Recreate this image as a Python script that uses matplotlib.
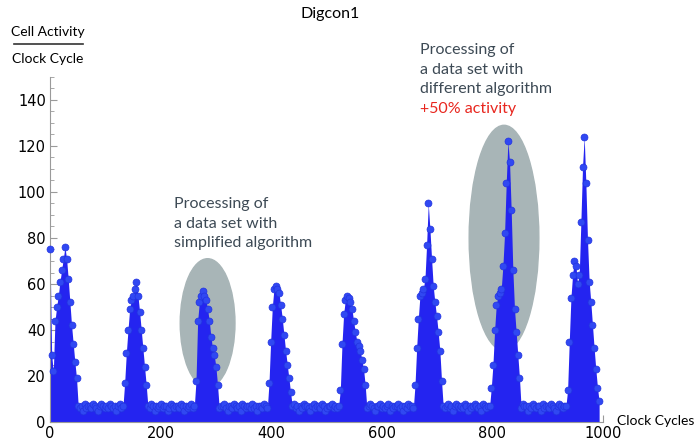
import numpy as np
import matplotlib.pyplot as plt
from matplotlib.patches import Ellipse
from matplotlib.ticker import MultipleLocator

burst_1 = [75, 29, 22, 44, 50, 55, 61, 66, 71, 76, 71, 62, 52, 42, 34, 26, 19]
idle_1 = [7, 6, 7, 5, 8, 6, 7, 7, 6, 8, 7, 6, 5, 7, 8, 7, 6, 7, 6, 8, 7, 6, 7, 5, 7, 8, 6, 7]
burst_2 = [17, 30, 40, 49, 53, 55, 58, 61, 55, 48, 40, 32, 24, 16]
idle_2 = [7, 6, 8, 7, 5, 7, 6, 7, 8, 6, 7, 7, 5, 6, 8, 7, 6, 7, 7, 6, 8, 7, 5, 7, 6, 7, 8, 6, 7]
burst_3 = [18, 44, 52, 55, 57, 55, 53, 49, 44, 37, 32, 29, 24, 16]
idle_3 = [6, 7, 7, 8, 6, 5, 7, 7, 6, 8, 7, 6, 7, 5, 8, 7, 6, 7, 7, 6, 8, 6, 7, 5, 7, 7, 6, 8, 7, 6]
burst_4 = [17, 35, 50, 58, 59, 58, 56, 51, 45, 38, 31, 25, 19, 13]
idle_4 = [7, 8, 6, 7, 5, 7, 6, 8, 7, 7, 6, 5, 7, 8, 6, 7, 7, 6, 8, 7, 5, 6, 7, 7, 8, 6, 7, 6, 7]
burst_5 = [14, 34, 47, 53, 55, 54, 52, 49, 44, 39, 35, 33, 31, 27, 23, 16]
idle_5 = [6, 7, 8, 7, 6, 5, 7, 7, 8, 6, 7, 6, 7, 8, 5, 7, 6, 7, 7, 8, 6, 7, 5, 7, 6, 8, 7, 7, 6]
burst_6 = [16, 32, 45, 55, 56, 58, 62, 77, 95, 84, 71, 59, 52, 46, 39, 31, 18]
idle_6 = [7, 6, 7, 8, 6, 7, 5, 7, 8, 7, 6, 7, 6, 8, 7, 5, 7, 6, 7, 8, 7, 6, 7, 5, 8, 7, 6, 7, 7]
burst_7 = [15, 25, 40, 51, 55, 56, 58, 68, 82, 104, 122, 113, 92, 66, 49, 39, 29, 19]
idle_7 = [6, 8, 7, 7, 5, 7, 6, 8, 7, 6, 7, 7, 5, 8, 6, 7, 7, 6, 8, 7, 6, 5, 7, 8, 7, 6, 7, 7]
burst_8 = [14, 35, 54, 64, 70, 68, 60, 64, 87, 111, 124, 104, 79, 61, 52, 42, 32, 23, 15, 9]

activity = np.array(burst_1 + idle_1 + burst_2 + idle_2 + burst_3 + idle_3 + burst_4 + idle_4
                    + burst_5 + idle_5 + burst_6 + idle_6 + burst_7 + idle_7 + burst_8)
cycles = np.arange(0, 3 * len(activity), 3)

W, H = 698, 442
fig = plt.figure(figsize=(W / 100, H / 100), dpi=100)
ax = fig.add_axes([50 / W, 20 / H, 553 / W, 345 / H])
plt.rcParams['font.family'] = ['Lato', 'DejaVu Sans']

def fx(px):
    return px / W

def fy(py):
    return 1 - py / H

# highlighted regions
ax.add_patch(Ellipse((285, 43), 99, 56, color='#a8b5b7', zorder=1))
ax.add_patch(Ellipse((821, 80), 126, 98, color='#a8b5b7', zorder=1))

ax.fill_between(cycles, 0, activity, color='#2424f0', lw=0, zorder=2)
ax.plot(cycles, activity, 'o', ms=5, color='#3048f2', mec='#2232e0', mew=0.5,
        zorder=3, clip_on=False)

ax.set_xlim(0, 1000)
ax.set_ylim(0, 150)
for s in ['top', 'right']:
    ax.spines[s].set_visible(False)
for s in ['left', 'bottom']:
    ax.spines[s].set_color('#9a9a9a')
    ax.spines[s].set_linewidth(0.8)
ax.xaxis.set_major_locator(MultipleLocator(200))
ax.xaxis.set_minor_locator(MultipleLocator(50))
ax.yaxis.set_major_locator(MultipleLocator(20))
ax.yaxis.set_minor_locator(MultipleLocator(5))
ax.tick_params(which='both', direction='in', color='#9a9a9a', labelsize=10.5, pad=3)
ax.tick_params(which='major', length=5, width=0.8)
ax.tick_params(which='minor', length=3, width=0.6)
ax.set_xticks(range(0, 1001, 200), [str(v) for v in range(0, 1001, 200)])

fig.text(fx(330), fy(14), 'Digcon1', ha='center', va='center', fontsize=11.5)
fig.text(fx(48), fy(32), 'Cell Activity', ha='center', va='center', fontsize=10)
fig.add_artist(plt.Line2D([fx(14), fx(83)], [fy(44), fy(44)], color='#333333', lw=1.2))
fig.text(fx(48), fy(59), 'Clock Cycle', ha='center', va='center', fontsize=10)
fig.text(fx(617), fy(421), 'Clock Cycles', ha='left', va='center', fontsize=10)

txt = '#3d4a55'
for i, line in enumerate(['Processing of', 'a data set with', 'simplified algorithm']):
    fig.text(fx(174), fy(204 + 19.5 * i), line, ha='left', va='center', fontsize=11.5, color=txt)
for i, line in enumerate(['Processing of', 'a data set with', 'different algorithm']):
    fig.text(fx(420), fy(50 + 19.5 * i), line, ha='left', va='center', fontsize=11.5, color=txt)
fig.text(fx(420), fy(108.5), '+50% activity', ha='left', va='center', fontsize=11.5, color='#e8261e')

fig.savefig('out.png', dpi=100)
